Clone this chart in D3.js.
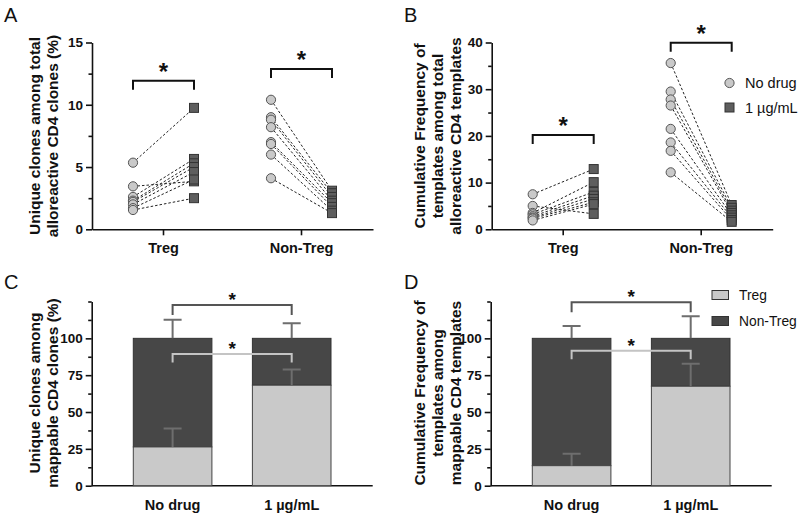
<!DOCTYPE html>
<html><head><meta charset="utf-8">
<script src="https://cdn.jsdelivr.net/npm/d3@7"></script>
<style>body{margin:0;background:#fff}svg{display:block;font-family:"Liberation Sans",Arial,sans-serif}</style>
</head><body><svg id="c" width="800" height="513"></svg>
<script>
// ---- data ----
const groups = ["Treg", "Non-Treg"];
const conditions = ["No drug", "1 µg/mL"];
// Panel A: unique clones among total alloreactive CD4 clones (%)
const aTregNoDrug   = [5.35, 3.45, 2.6, 2.3, 2.2, 2.0, 1.7, 1.55];
const aTregDrug     = [9.75, 3.85, 5.65, 5.3, 5.0, 4.6, 4.0, 2.5];
const aNonNoDrug    = [10.4, 9.0, 8.8, 8.2, 7.0, 6.85, 6.0, 4.1];
const aNonDrug      = [3.1, 2.9, 2.6, 2.3, 2.1, 1.8, 1.5, 1.3];
const aTicks = [0, 5, 10, 15];
const aMinor = [2.5, 7.5, 12.5];
// Panel B: cumulative frequency among total alloreactive CD4 templates
const bTregNoDrug   = [7.5, 5.0, 3.5, 3.2, 2.8, 2.5, 2.3, 1.9];
const bTregDrug     = [12.9, 3.3, 10.1, 8.0, 7.2, 6.5, 5.8, 5.4];
const bNonNoDrug    = [35.6, 29.5, 27.8, 26.5, 21.5, 18.6, 16.8, 12.2];
const bNonDrug      = [5.2, 4.6, 4.0, 3.5, 3.0, 2.5, 2.0, 1.6];
const bTicks = [0, 10, 20, 30, 40];
const bMinor = [5, 15, 25, 35];
// Panel C: unique clones among mappable CD4 clones (%) — stacked means + SD
const cTreg = [26.3, 68.2];
const cTregErr = [38.9, 78.9];
const cTotal = [100, 100];
const cTotalErr = [112.7, 110.2];
// Panel D: cumulative frequency among mappable CD4 templates
const dTreg = [13.6, 67.5];
const dTregErr = [21.6, 82.7];
const dTotal = [100, 100];
const dTotalErr = [108.4, 115];
const stackTicks = [0, 25, 50, 75, 100];
const stackMinor = [12.5, 37.5, 62.5, 87.5, 112.5, 125];

const svg = d3.select("#c");
const LIGHT = "#c9c9c9", DARK = "#474747";

function letter(x, y, t) {
  svg.append("text").attr("x", x).attr("y", y).attr("font-size", 20).attr("fill", "#111").text(t);
}
function ylabel(cx, cy, lines, sp) {
  const t = svg.append("text").attr("transform", `translate(${cx},${cy}) rotate(-90)`)
    .attr("text-anchor", "middle").attr("font-size", 15.5).attr("font-weight", "bold").attr("fill", "#111");
  const n = lines.length;
  lines.forEach((l, i) => t.append("tspan").attr("x", 0).attr("y", (i - (n - 1) / 2) * sp + 5).text(l));
}
function styleAxis(g) {
  g.selectAll("path,line").attr("stroke", "#111").attr("stroke-width", 1.6);
  g.selectAll("text").attr("font-size", 13.5).attr("font-weight", "bold").attr("fill", "#111")
    .attr("font-family", "Liberation Sans, Arial, sans-serif");
}
function yAxis(x0, y, major, minor) {
  const g = svg.append("g").attr("transform", `translate(${x0},0)`)
    .call(d3.axisLeft(y).tickValues(major).tickSize(6).tickPadding(3).tickSizeOuter(0));
  styleAxis(g);
  const m = svg.append("g").attr("transform", `translate(${x0},0)`)
    .call(d3.axisLeft(y).tickValues(minor).tickSize(3.5).tickFormat("").tickSizeOuter(0));
  m.select(".domain").remove();
  styleAxis(m);
}
function bracket(x1, x2, yTop, drop, color, starY, starSize) {
  svg.append("path").attr("d", `M${x1},${yTop + drop}V${yTop}H${x2}V${yTop + drop}`)
    .attr("fill", "none").attr("stroke", color).attr("stroke-width", 2);
  svg.append("text").attr("x", (x1 + x2) / 2).attr("y", starY).attr("text-anchor", "middle")
    .attr("font-size", starSize).attr("font-weight", "bold").attr("fill", "#111").text("*");
}

function pairedPanel(o) {
  const y = d3.scaleLinear().domain([0, o.ymax]).range([229.3, 42.5]);
  const x = d3.scalePoint().domain(groups).range([o.x0 + 71.5, o.x0 + 209.5]);
  yAxis(o.x0, y, o.ticks, o.minor);
  const gx = svg.append("g").attr("transform", `translate(0,229.3)`)
    .call(d3.axisBottom(d3.scaleLinear().domain([o.x0, o.x0 + 281]).range([o.x0, o.x0 + 281])).tickValues([]).tickSizeOuter(0));
  styleAxis(gx);
  groups.forEach(gname => {
    gx.append("line").attr("x1", x(gname)).attr("x2", x(gname)).attr("y1", 0).attr("y2", 6).attr("stroke", "#111").attr("stroke-width", 1.6);
    gx.append("text").attr("x", x(gname)).attr("y", 24).attr("text-anchor", "middle")
      .attr("font-size", 14.5).attr("font-weight", "bold").attr("fill", "#111").text(gname);
  });
  const off = 30.5;
  o.sets.forEach(([gname, pre, post]) => {
    const cx = x(gname);
    pre.forEach((v, i) => {
      svg.append("line").attr("x1", cx - off).attr("y1", y(v)).attr("x2", cx + off).attr("y2", y(post[i]))
        .attr("stroke", "#222").attr("stroke-width", 1).attr("stroke-dasharray", "2.5,2");
    });
    post.forEach(v => svg.append("rect").attr("x", cx + off - 4.5).attr("y", y(v) - 4.5).attr("width", 9).attr("height", 9)
      .attr("fill", "#5e5e5e").attr("stroke", "#333").attr("stroke-width", 1));
    pre.forEach(v => svg.append("circle").attr("cx", cx - off).attr("cy", y(v)).attr("r", 4.6)
      .attr("fill", LIGHT).attr("stroke", "#555").attr("stroke-width", 1));
  });
  o.brackets.forEach(b => bracket(x(b.g) - off, x(b.g) + off, b.y, 9, "#111", b.star, 24));
}

function stackPanel(o) {
  const y = d3.scaleLinear().domain([0, 125]).range([485.7, 301.5]);
  const x = d3.scaleBand().domain(conditions).range([o.x0 + 41.6, o.x0 + 239.3]).paddingInner(0.34).paddingOuter(0);
  yAxis(o.x0, y, stackTicks, stackMinor);
  const gx = svg.append("g").attr("transform", `translate(0,485.7)`)
    .call(d3.axisBottom(x).tickSize(0).tickPadding(14).tickSizeOuter(0));
  gx.select("path").attr("d", `M${o.x0},0H${o.x0 + 281}`);
  styleAxis(gx);
  gx.selectAll("text").attr("font-size", 14.5);
  const bw = x.bandwidth();
  conditions.forEach((c, i) => {
    const bx = x(c), cx = bx + bw / 2;
    svg.append("rect").attr("x", bx).attr("y", y(o.total[i])).attr("width", bw).attr("height", y(o.treg[i]) - y(o.total[i]))
      .attr("fill", DARK).attr("stroke", "#333").attr("stroke-width", 1);
    svg.append("rect").attr("x", bx).attr("y", y(o.treg[i])).attr("width", bw).attr("height", y(0) - y(o.treg[i]))
      .attr("fill", LIGHT).attr("stroke", "#444").attr("stroke-width", 1);
    [[o.treg[i], o.tregErr[i]], [o.total[i], o.totalErr[i]]].forEach(([m, e]) => {
      svg.append("path").attr("d", `M${cx},${y(m)}V${y(e)}M${cx - 9},${y(e)}H${cx + 9}`)
        .attr("fill", "none").attr("stroke", "#6e6e6e").attr("stroke-width", 2);
    });
  });
  const c1 = x(conditions[0]) + bw / 2, c2 = x(conditions[1]) + bw / 2;
  bracket(c1, c2, o.b1, 10, "#555", o.s1, 19);
  bracket(c1, c2, o.b2, 8.5, "#c4c4c4", o.s2, 19);
}

// Panel A
letter(4, 22, "A");
ylabel(43.75, 136, ["Unique clones among total", "alloreactive CD4 clones (%)"], 17.5);
pairedPanel({x0: 92, ymax: 15, ticks: aTicks, minor: aMinor,
  sets: [["Treg", aTregNoDrug, aTregDrug], ["Non-Treg", aNonNoDrug, aNonDrug]],
  brackets: [{g: "Treg", y: 80.7, star: 80}, {g: "Non-Treg", y: 69, star: 68}]});

// Panel B
letter(404, 22, "B");
ylabel(438, 136, ["Cumulative Frequency of", "templates among total", "alloreactive CD4 templates"], 18.3);
pairedPanel({x0: 491.7, ymax: 40, ticks: bTicks, minor: bMinor,
  sets: [["Treg", bTregNoDrug, bTregDrug], ["Non-Treg", bNonNoDrug, bNonDrug]],
  brackets: [{g: "Treg", y: 135, star: 134}, {g: "Non-Treg", y: 42.7, star: 42}]});
// legend B
svg.append("circle").attr("cx", 729.5).attr("cy", 83).attr("r", 4.6).attr("fill", LIGHT).attr("stroke", "#555");
svg.append("text").attr("x", 745).attr("y", 88).attr("font-size", 14.5).attr("fill", "#111").text("No drug");
svg.append("rect").attr("x", 725).attr("y", 103).attr("width", 9).attr("height", 9).attr("fill", "#5e5e5e").attr("stroke", "#333");
svg.append("text").attr("x", 745).attr("y", 112.5).attr("font-size", 14.5).attr("fill", "#111").text("1 µg/mL");

// Panel C
letter(4, 289, "C");
ylabel(43.75, 393, ["Unique clones among", "mappable CD4 clones (%)"], 17.5);
stackPanel({x0: 91.7, treg: cTreg, tregErr: cTregErr, total: cTotal, totalErr: cTotalErr,
  b1: 305, s1: 306, b2: 354, s2: 355});

// Panel D
letter(404, 289, "D");
ylabel(438, 393, ["Cumulative Frequency of", "templates among", "mappable CD4 templates"], 18.3);
stackPanel({x0: 490.7, treg: dTreg, tregErr: dTregErr, total: dTotal, totalErr: dTotalErr,
  b1: 302.3, s1: 303, b2: 350.7, s2: 351.5});
// legend D
[["Treg", LIGHT, 295], ["Non-Treg", DARK, 321]].forEach(([t, col, yy]) => {
  svg.append("rect").attr("x", 712).attr("y", yy - 4.5).attr("width", 16.5).attr("height", 9).attr("fill", col).attr("stroke", "#333");
  svg.append("text").attr("x", 739).attr("y", yy + 5).attr("font-size", 13.8).attr("fill", "#111").text(t);
});
</script></body></html>
